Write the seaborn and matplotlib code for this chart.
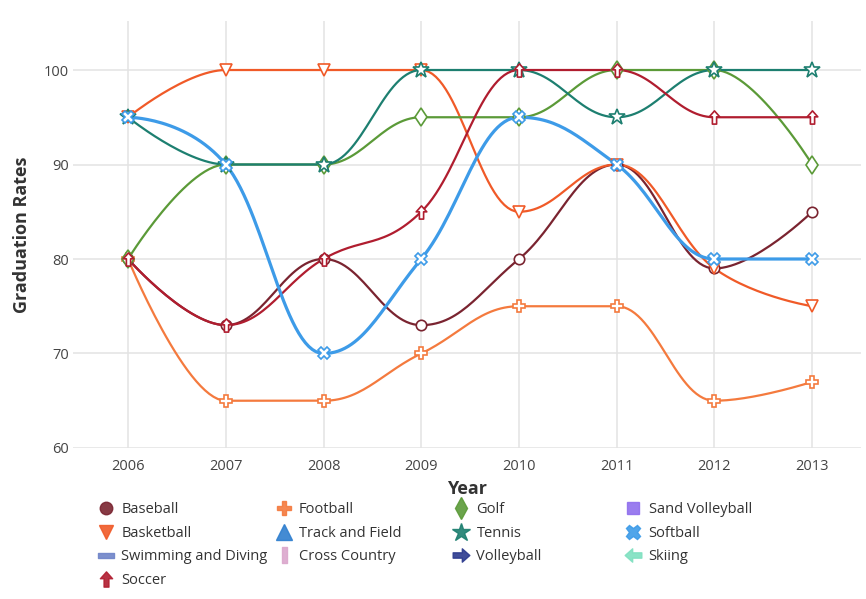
import numpy as np
import pandas as pd
import matplotlib.pyplot as plt
import seaborn as sns
from matplotlib.path import Path
from matplotlib.lines import Line2D

# --- data ---
years = [2006, 2007, 2008, 2009, 2010, 2011, 2012, 2013]
baseball = [80, 73, 80, 73, 80, 90, 79, 85]
basketball = [95, 100, 100, 100, 85, 90, 79, 75]
football = [80, 65, 65, 70, 75, 75, 65, 67]
golf = [80, 90, 90, 95, 95, 100, 100, 90]
tennis = [95, 90, 90, 100, 100, 95, 100, 100]
soccer = [80, 73, 80, 85, 100, 100, 95, 95]
softball = [95, 90, 70, 80, 95, 90, 80, 80]
yticks = [60, 70, 80, 90, 100]

# arrow-ish custom markers
def arrow(rot):
    pts = np.array([(0, 1), (-0.8, 0.1), (-0.32, 0.1), (-0.32, -1),
                    (0.32, -1), (0.32, 0.1), (0.8, 0.1), (0, 1)])
    c, s = np.cos(np.radians(rot)), np.sin(np.radians(rot))
    pts = pts @ np.array([[c, s], [-s, c]])
    codes = [Path.MOVETO] + [Path.LINETO] * 6 + [Path.CLOSEPOLY]
    return Path(pts, codes)

up_arrow = arrow(0)
right_arrow = arrow(-90)
left_arrow = arrow(90)
hbar = Path([(-1, -0.3), (1, -0.3), (1, 0.3), (-1, 0.3), (-1, -0.3)],
            [Path.MOVETO, Path.LINETO, Path.LINETO, Path.LINETO, Path.CLOSEPOLY])
vbar = Path([(-0.3, -1), (0.3, -1), (0.3, 1), (-0.3, 1), (-0.3, -1)],
            [Path.MOVETO, Path.LINETO, Path.LINETO, Path.LINETO, Path.CLOSEPOLY])

# name: (values, color, marker, size, linewidth)
series = {
    "Baseball": (baseball, "#7a2430", "o", 7.5, 1.6),
    "Basketball": (basketball, "#f05a28", "v", 8.5, 1.6),
    "Football": (football, "#f47a3e", "P", 8.5, 1.6),
    "Golf": (golf, "#5b9a38", "d", 9.5, 1.6),
    "Tennis": (tennis, "#1d7f70", "*", 12, 1.6),
    "Soccer": (soccer, "#b01d2f", up_arrow, 9.5, 1.6),
    "Softball": (softball, "#3d9be8", "X", 9, 2.3),
}
legend_extra = {
    "Sand Volleyball": ("#8f6fee", "s", 8.5),
    "Track and Field": ("#2f7fcf", "^", 11),
    "Swimming and Diving": ("#6f84c8", hbar, 12),
    "Cross Country": ("#dba7cc", vbar, 12),
    "Volleyball": ("#2b3a8e", right_arrow, 12),
    "Skiing": ("#7fe0c0", left_arrow, 12),
}


def smooth_spline(x, y, smoothing=1.5, n=30):
    # bezier spline with flattened extremes (no false peaks on flat runs)
    x = np.asarray(x, float)
    y = np.asarray(y, float)
    k = len(x)
    lcx, lcy, rcx, rcy = x.copy(), y.copy(), x.copy(), y.copy()
    d = smoothing + 1
    for i in range(1, k - 1):
        lx = (smoothing * x[i] + x[i - 1]) / d
        ly = (smoothing * y[i] + y[i - 1]) / d
        rx = (smoothing * x[i] + x[i + 1]) / d
        ry = (smoothing * y[i] + y[i + 1]) / d
        corr = (ry - ly) * (rx - x[i]) / (rx - lx) + y[i] - ry
        ly += corr
        ry += corr
        if ly > y[i - 1] and ly > y[i]:
            ly = max(y[i - 1], y[i]); ry = 2 * y[i] - ly
        elif ly < y[i - 1] and ly < y[i]:
            ly = min(y[i - 1], y[i]); ry = 2 * y[i] - ly
        if ry > y[i + 1] and ry > y[i]:
            ry = max(y[i + 1], y[i]); ly = 2 * y[i] - ry
        elif ry < y[i + 1] and ry < y[i]:
            ry = min(y[i + 1], y[i]); ly = 2 * y[i] - ry
        lcx[i], lcy[i], rcx[i], rcy[i] = lx, ly, rx, ry
    t = np.linspace(0, 1, n, endpoint=False)[:, None]
    xs, ys = [], []
    for i in range(k - 1):
        P = np.array([[x[i], y[i]], [rcx[i], rcy[i]],
                      [lcx[i + 1], lcy[i + 1]], [x[i + 1], y[i + 1]]])
        B = ((1 - t) ** 3) * P[0] + 3 * ((1 - t) ** 2) * t * P[1] \
            + 3 * (1 - t) * t ** 2 * P[2] + t ** 3 * P[3]
        xs.extend(B[:, 0]); ys.extend(B[:, 1])
    xs.append(x[-1]); ys.append(y[-1])
    return np.array(xs), np.array(ys)


sns.set_style("white")
plt.rcParams['font.family'] = ['Open Sans', 'DejaVu Sans']

fig = plt.figure(figsize=(8.66, 5.99), dpi=100)
ax = fig.add_axes([0.0843, 0.2521, 0.91, 0.7129])

for name, (vals, color, marker, size, lw) in series.items():
    cx, cy = smooth_spline(years, vals)
    sns.lineplot(x=cx, y=cy, ax=ax, color=color, linewidth=lw, sort=False,
                 estimator=None, zorder=2)
    ax.plot(years, vals, linestyle="none", marker=marker, markersize=size,
            markerfacecolor="white", markeredgecolor=color, markeredgewidth=1.2,
            zorder=3)

ax.set_xlim(2005.437, 2013.5)
ax.set_ylim(60, 105.19)
ax.set_xticks(years)
ax.set_yticks(yticks)
ax.grid(True, color="#e3e3e3", linewidth=1.1)
for s in ax.spines.values():
    s.set_visible(False)
ax.tick_params(axis="both", length=0, labelsize=10.5, colors="#444444")
ax.tick_params(axis="y", pad=3)
ax.tick_params(axis="x", pad=8)
ax.set_xlabel("Year", fontsize=13, fontweight="bold", color="#333333", labelpad=4)
ax.set_ylabel("Graduation Rates", fontsize=13, fontweight="bold", color="#333333", labelpad=9)

handles = {}
for name, (vals, color, marker, size, lw) in series.items():
    handles[name] = Line2D([], [], linestyle="none", marker=marker, markersize=size + 1.5,
                           markerfacecolor=color, markeredgecolor=color, alpha=0.9)
for name, (color, marker, size) in legend_extra.items():
    handles[name] = Line2D([], [], linestyle="none", marker=marker, markersize=size,
                           markerfacecolor=color, markeredgecolor=color, alpha=0.9)

columns = [["Baseball", "Basketball", "Swimming and Diving", "Soccer"],
           ["Football", "Track and Field", "Cross Country"],
           ["Golf", "Tennis", "Volleyball"],
           ["Sand Volleyball", "Softball", "Skiing"]]
col_x = [0.114, 0.319, 0.524, 0.723]
for cx, names in zip(col_x, columns):
    fig.legend([handles[k] for k in names], names, loc="upper left",
               bbox_to_anchor=(cx, 0.162), frameon=False, fontsize=10.5,
               handlelength=1.0, handletextpad=0.55, labelspacing=0.6,
               borderaxespad=0, borderpad=0, labelcolor="#333333")

fig.savefig("out.png", dpi=100)
